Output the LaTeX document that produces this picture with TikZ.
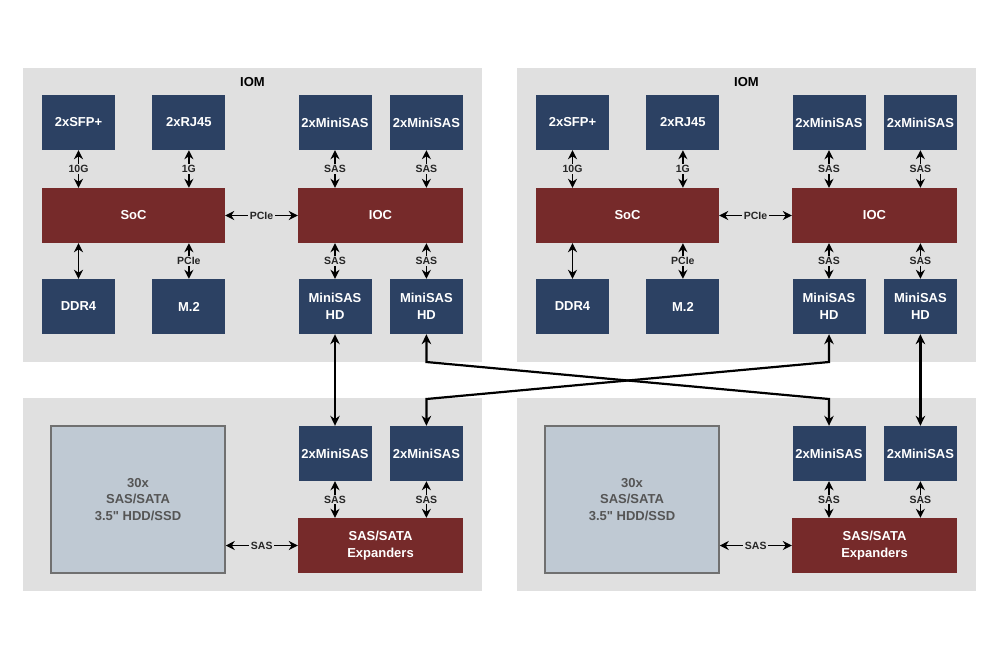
\documentclass[tikz,border=0pt]{standalone}
\usepackage{fontspec}
\setmainfont{Liberation Sans}[Ligatures=TeXOff]
\usetikzlibrary{positioning, arrows.meta}

\definecolor{iomblue}{RGB}{44,65,99}
\definecolor{iomred}{RGB}{118,42,42}
\definecolor{panelgray}{RGB}{224,224,224}
\definecolor{diskfill}{RGB}{191,201,211}
\definecolor{diskline}{RGB}{112,112,112}
\definecolor{disktext}{RGB}{85,85,85}

\begin{document}
\begin{tikzpicture}[
  x=1pt, y=-1pt,
  font=\bfseries\fontsize{13}{16.5}\selectfont,
  panel/.style={rectangle, fill=panelgray, minimum width=459pt, inner sep=0pt, anchor=north west},
  port/.style={rectangle, fill=iomblue, text=white, minimum width=73pt, minimum height=55pt, align=center, inner sep=0pt},
  chip/.style={rectangle, fill=iomred, text=white, minimum height=55pt, align=center, inner sep=0pt},
  disk/.style={rectangle, draw=diskline, line width=1.5pt, fill=diskfill, text=disktext, minimum width=174pt, minimum height=147pt, align=center},
  arr/.style={{Stealth[length=9pt, width=9pt]}-{Stealth[length=9pt, width=9pt]}, line width=1.8pt},
  bus/.style={{Stealth[length=10pt, width=9.5pt]}-{Stealth[length=10pt, width=9.5pt]}, line width=2.2pt},
  lbl/.style={fill=panelgray, text=black!85, font=\bfseries\fontsize{10.5}{11}\selectfont, inner xsep=1.5pt, inner ysep=1pt}
]
  \fill[white] (0,0) rectangle (1000,659);
  \useasboundingbox (0,0) rectangle (1000,659);

  \foreach \s/\dx in {L/0, R/494} {
    \begin{scope}[xshift=\dx pt]
      % IOM
      \node[panel, minimum height=294pt] (\s-iom) at (23,68) {};
      \node (\s-title) at (252.5,82) {IOM};
      \node[port] (\s-sfp) at (78.5,122.5) {2xSFP+};
      \node[port, right=37pt of \s-sfp] (\s-rj) {2xRJ45};
      \node[port] (\s-msa) at (335,122.5) {2xMiniSAS};
      \node[port, right=18pt of \s-msa] (\s-msb) {2xMiniSAS};
      \node[chip, minimum width=183pt] (\s-soc) at (133.5,215.5) {SoC};
      \node[chip, minimum width=165pt] (\s-ioc) at (380.5,215.5) {IOC};
      \node[port] (\s-ddr) at (78.5,306.5) {DDR4};
      \node[port, right=37pt of \s-ddr] (\s-m2) {M.2};
      \node[port] (\s-hda) at (335,306.5) {MiniSAS\\HD};
      \node[port, right=18pt of \s-hda] (\s-hdb) {MiniSAS\\HD};

      \draw[arr] (\s-sfp.south) -- node[lbl] {10G} (\s-sfp.south |- \s-soc.north);
      \draw[arr] (\s-rj.south) -- node[lbl] {1G} (\s-rj.south |- \s-soc.north);
      \draw[arr] (\s-msa.south) -- node[lbl] {SAS} (\s-msa.south |- \s-ioc.north);
      \draw[arr] (\s-msb.south) -- node[lbl] {SAS} (\s-msb.south |- \s-ioc.north);
      \draw[arr] (\s-soc.east) -- node[lbl] {PCIe} (\s-ioc.west);
      \draw[arr] (\s-ddr.north |- \s-soc.south) -- (\s-ddr.north);
      \draw[arr] (\s-m2.north |- \s-soc.south) -- node[lbl] {PCIe} (\s-m2.north);
      \draw[arr] (\s-hda.north |- \s-ioc.south) -- node[lbl] {SAS} (\s-hda.north);
      \draw[arr] (\s-hdb.north |- \s-ioc.south) -- node[lbl] {SAS} (\s-hdb.north);

      % enclosure
      \node[panel, minimum height=193pt] (\s-enc) at (23,398) {};
      \node[disk] (\s-hdd) at (138,499.5) {30x\\SAS/SATA\\3.5" HDD/SSD};
      \node[port] (\s-bma) at (335,453.5) {2xMiniSAS};
      \node[port, right=18pt of \s-bma] (\s-bmb) {2xMiniSAS};
      \node[chip, minimum width=165pt] (\s-exp) at (380.5,545.5) {SAS/SATA\\Expanders};

      \draw[arr] (\s-bma.south) -- node[lbl] {SAS} (\s-bma.south |- \s-exp.north);
      \draw[arr] (\s-bmb.south) -- node[lbl] {SAS} (\s-bmb.south |- \s-exp.north);
      \draw[arr] (\s-exp.west -| \s-hdd.east) -- node[lbl] {SAS} (\s-exp.west);
    \end{scope}
  }

  % cabling between IOMs and enclosures
  \coordinate (xtop) at (0,362);
  \coordinate (xbot) at (0,399);
  \draw[bus] (L-hda.south) -- (L-bma.north);
  \draw[bus] (R-hdb.south) -- (R-bmb.north);
  \draw[bus] (L-hdb.south) -- (L-hdb.south |- xtop) -- (R-bma.north |- xbot) -- (R-bma.north);
  \draw[bus] (R-hda.south) -- (R-hda.south |- xtop) -- (L-bmb.north |- xbot) -- (L-bmb.north);
\end{tikzpicture}
\end{document}
